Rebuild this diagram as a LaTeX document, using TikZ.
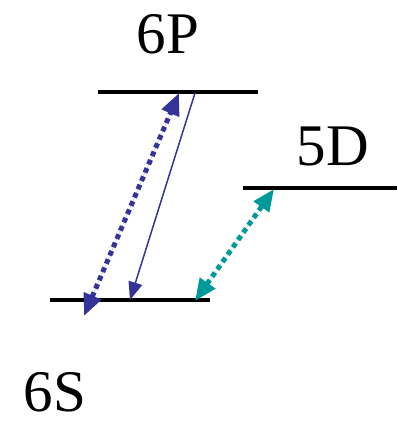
\documentclass[tikz,border=0pt]{standalone}
\usepackage{fontspec}
\setmainfont{Liberation Serif}
\usetikzlibrary{arrows.meta}
\definecolor{lblue}{HTML}{333399}
\definecolor{lteal}{HTML}{009999}
\begin{document}
\begin{tikzpicture}[x=1pt,y=-1pt,
  level/.style={line width=4pt,black},
  lbl/.style={font=\fontsize{59}{62}\selectfont,inner sep=0pt},
  dotarrow/.style={line width=5pt,dash pattern=on 5pt off 4pt,{Triangle[length=22pt,width=18pt]}-{Triangle[length=22pt,width=18pt]}},
  solidarrow/.style={line width=1.5pt,lblue,-{Triangle[length=18pt,width=14pt]}}]
\useasboundingbox (0,0) rectangle (397,423);
% levels
\coordinate (p1) at (98,92); \coordinate (p2) at (258,92);
\coordinate (d1) at (243,188); \coordinate (d2) at (397,188);
\coordinate (s1) at (50,300); \coordinate (s2) at (210,300);
\draw[level] (p1) -- (p2);
\draw[level] (d1) -- (d2);
\draw[level] (s1) -- (s2);
% labels
\node[lbl] (l6p) at (168,34) {6P};
\node[lbl] (l5d) at (333,146) {5D};
\node[lbl] (l6s) at (55,392) {6S};
% arrow endpoints
\coordinate (a1) at (84,316); \coordinate (a2) at (179,93);
\coordinate (b1) at (195,93); \coordinate (b2) at (130,300);
\coordinate (c1) at (195,301); \coordinate (c2) at (274,189);
\draw[dotarrow,draw=lblue,fill=lblue] (a1) -- (a2);
\draw[solidarrow,fill=lblue] (b1) -- (b2);
\draw[dotarrow,draw=lteal,fill=lteal] (c1) -- (c2);
\end{tikzpicture}
\end{document}
